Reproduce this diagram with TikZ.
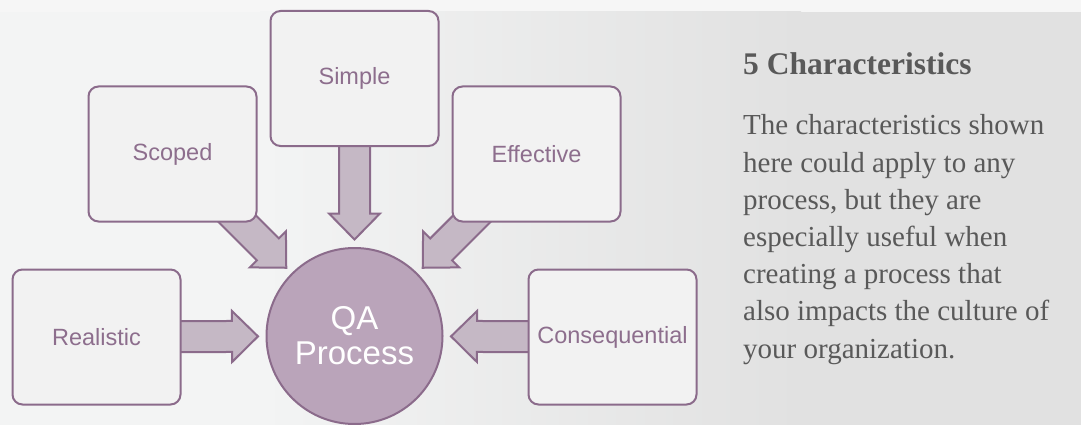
\documentclass[tikz,border=0pt]{standalone}
\usepackage{fontspec}
\setmainfont{Liberation Serif}
\newfontfamily\diagsans{Liberation Sans}
\usetikzlibrary{calc}

\definecolor{plumline}{HTML}{8B6B8B}
\definecolor{plumtext}{HTML}{8D6E8D}
\definecolor{boxfill}{HTML}{F2F2F2}
\definecolor{arrowfill}{HTML}{C5B8C5}
\definecolor{hubfill}{HTML}{BAA4BA}
\definecolor{bgtop}{HTML}{F6F6F6}
\definecolor{bgleft}{HTML}{F3F4F4}
\definecolor{bgright}{HTML}{E1E1E1}
\definecolor{note}{HTML}{595959}

\pgfdeclarelayer{backdrop}
\pgfdeclarelayer{links}
\pgfsetlayers{backdrop,links,main}

% block arrow from the centre of box #1 towards the hub, tip just off its rim
\newcommand\feedarrow[1]{%
  \coordinate (tip-#1) at ($(qa.center)!96.5pt!(#1.center)$);
  \coordinate (neck-#1) at ($(tip-#1)!26pt!(#1.center)$);
  \draw[flowarrow] (tip-#1)
    -- ($(neck-#1)!25.5pt!90:(tip-#1)$)
    -- ($(neck-#1)!15.5pt!90:(tip-#1)$)
    -- ($(#1.center)!15.5pt!90:(tip-#1)$)
    -- ($(#1.center)!15.5pt!-90:(tip-#1)$)
    -- ($(neck-#1)!15.5pt!-90:(tip-#1)$)
    -- ($(neck-#1)!25.5pt!-90:(tip-#1)$)
    -- cycle;}

\begin{document}
\begin{tikzpicture}[x=1pt,y=-1pt,
  charbox/.style={draw=plumline, fill=boxfill, line width=2pt,
    rounded corners=10pt, minimum width=168pt, minimum height=135pt,
    inner sep=2pt, text=plumtext, font=\diagsans\fontsize{23.5}{27}\selectfont},
  flowarrow/.style={draw=plumline, fill=arrowfill, line width=2pt, line join=miter},
  hub/.style={circle, draw=plumline, fill=hubfill, line width=2pt,
    minimum size=176pt, inner sep=0pt, align=center, text=white,
    font=\diagsans\fontsize{33}{35}\selectfont},
  notetitle/.style={anchor=base west, inner sep=0pt, text=note,
    font=\bfseries\fontsize{31.5}{37}\selectfont},
  notebody/.style={anchor=north west, inner sep=0pt, align=left, text=note,
    font=\fontsize{29}{37.2}\selectfont}]

\useasboundingbox (0,0) rectangle (1081,425);

% page background: pale strip on top, soft grey fade to the right
\begin{pgfonlayer}{backdrop}
  \fill[bgtop] (0,0) rectangle (1081,12);
  \fill[bgleft] (0,12) rectangle (261,425);
  \shade[left color=bgleft, right color=bgright] (260,12) rectangle (801,425);
  \fill[bgright] (800,12) rectangle (1081,425);
\end{pgfonlayer}

% hub and the five characteristics
\node[hub] (qa) at (354.5,336) {QA\\Process};
\node[charbox] (simple)        at (354.5,78.5) {Simple};
\node[charbox] (scoped)        at (172.5,154)  {Scoped};
\node[charbox] (effective)     at (536.5,154)  {Effective};
\node[charbox] (realistic)     at (96.5,337)   {Realistic};
\node[charbox] (consequential) at (612.5,337)  {Consequential};

% arrows feeding the hub
\begin{pgfonlayer}{links}
  \feedarrow{simple}
  \feedarrow{scoped}
  \feedarrow{effective}
  \feedarrow{realistic}
  \feedarrow{consequential}
\end{pgfonlayer}

% side note
\node[notetitle] (title) at (743,75) {5 Characteristics};
\node[notebody] (body) at (743,114.5) {The characteristics shown\\
here could apply to any\\
process, but they are\\
especially useful when\\
creating a process that\\
also impacts the culture of\\
your organization.};

\end{tikzpicture}
\end{document}
